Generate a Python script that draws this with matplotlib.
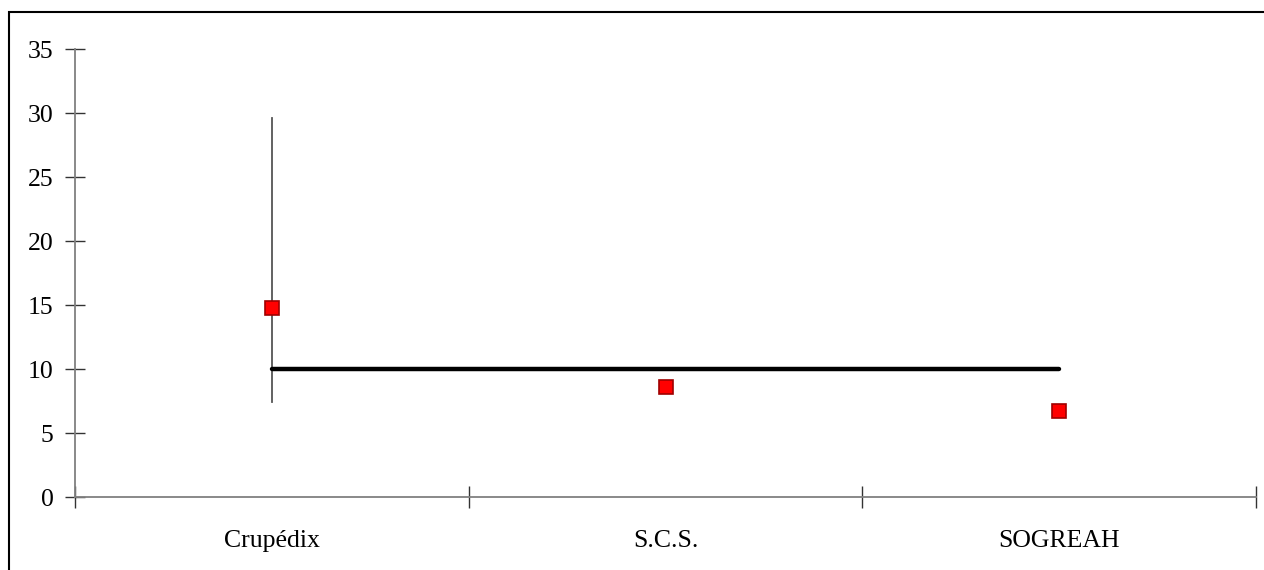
import matplotlib
matplotlib.use("Agg")
import matplotlib.pyplot as plt
from matplotlib.patches import Rectangle

categories = ["Crupédix", "S.C.S.", "SOGREAH"]
values = [14.8, 8.6, 6.7]
err_low = [7.4, None, None]
err_high = [29.6, None, None]
ref_level = 10
y_ticks = [0, 5, 10, 15, 20, 25, 30, 35]

plt.rcParams['font.family'] = ['Liberation Serif', 'DejaVu Serif']

fig = plt.figure(figsize=(12.64, 5.70), dpi=100)
ax = fig.add_axes([75/1264, 1-497/570, (1256-75)/1264, (497-49)/570])

xs = [i + 0.5 for i in range(len(categories))]

# error bar (Crupédix)
for x, lo, hi in zip(xs, err_low, err_high):
    if lo is not None:
        ax.plot([x, x], [lo, hi], color='#555555', lw=1.3, zorder=2)

# reference line
ax.plot([xs[0], xs[-1]], [ref_level, ref_level], color='black', lw=3.2,
        solid_capstyle='round', zorder=3)

# markers
ax.plot(xs, values, linestyle='none', marker='s', markersize=10.5,
        markerfacecolor='#ff0000', markeredgecolor='#a00000',
        markeredgewidth=1.2, zorder=4)

ax.set_xlim(0, len(categories))
ax.set_ylim(0, 35)
ax.set_yticks(y_ticks)
ax.set_yticklabels([str(t) for t in y_ticks])
ax.set_xticks(range(len(categories) + 1))
ax.set_xticklabels([])
ax.set_xticks(xs, minor=True)
ax.set_xticklabels(categories, minor=True)

for s in ['top', 'right']:
    ax.spines[s].set_visible(False)
for s in ['left', 'bottom']:
    ax.spines[s].set_color('#808080')
    ax.spines[s].set_linewidth(1.3)

ax.tick_params(axis='y', which='major', direction='inout', length=15,
               width=1.0, color='#333333', labelsize=18.5, pad=8)
ax.tick_params(axis='x', which='major', direction='inout', length=16,
               width=1.0, color='#333333')
ax.tick_params(axis='x', which='minor', length=0, labelsize=18.5, pad=24)

fig.patches.append(Rectangle((9/1264, -0.05), 1.05, 1-12/570+0.05,
                             transform=fig.transFigure, fill=False,
                             edgecolor='black', lw=1.5, zorder=0))

fig.savefig("out.png", dpi=100)
